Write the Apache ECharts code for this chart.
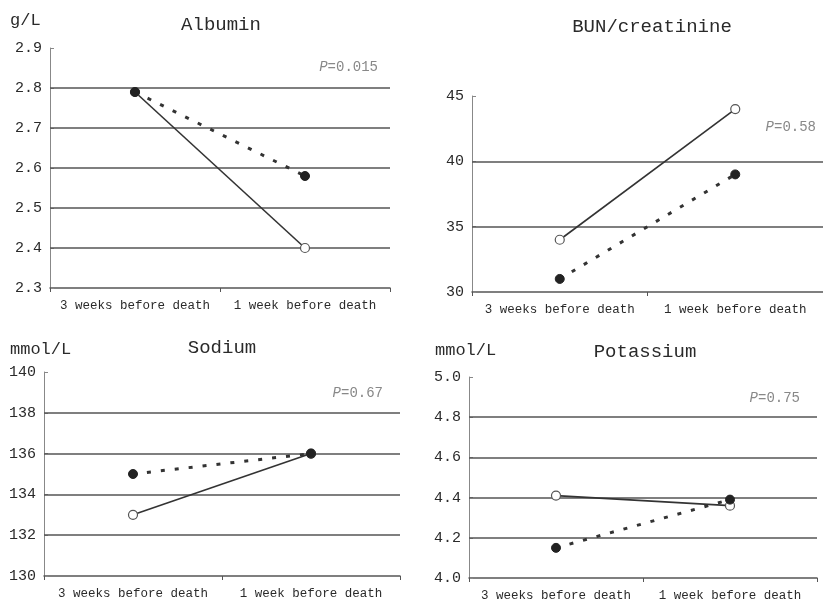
<!DOCTYPE html>
<html>
<head>
<meta charset="utf-8">
<script src="https://cdn.jsdelivr.net/npm/echarts@6/dist/echarts.min.js"></script>
<style>html,body{margin:0;padding:0;background:#fff;}#c{width:823px;height:602px;}</style>
</head>
<body>
<div id="c"></div>
<script>
const categories = ['3 weeks before death', '1 week before death'];

const albuminSolid = [2.79, 2.40];
const albuminDotted = [2.79, 2.58];
const albuminTicks = [2.3, 2.4, 2.5, 2.6, 2.7, 2.8, 2.9];

const bunSolid = [34, 44];
const bunDotted = [31, 39];
const bunTicks = [30, 35, 40, 45];

const sodiumSolid = [133, 136];
const sodiumDotted = [135, 136];
const sodiumTicks = [130, 132, 134, 136, 138, 140];

const potassiumSolid = [4.41, 4.36];
const potassiumDotted = [4.15, 4.39];
const potassiumTicks = [4.0, 4.2, 4.4, 4.6, 4.8, 5.0];

const panels = [
  { title: 'Albumin', unit: 'g/L', p: '0.015', solid: albuminSolid, dotted: albuminDotted, ticks: albuminTicks, dec: 1,
    grid: { left: 50, top: 48, width: 340, height: 240 },
    titlePos: [221, 25], unitPos: [10, 20], pPos: [378, 67] },
  { title: 'BUN/creatinine', unit: '', p: '0.58', solid: bunSolid, dotted: bunDotted, ticks: bunTicks, dec: 0,
    grid: { left: 472, top: 96, width: 358, height: 196 },
    titlePos: [652, 27], unitPos: [0, 0], pPos: [816, 127] },
  { title: 'Sodium', unit: 'mmol/L', p: '0.67', solid: sodiumSolid, dotted: sodiumDotted, ticks: sodiumTicks, dec: 0,
    grid: { left: 44, top: 372, width: 356, height: 204 },
    titlePos: [222, 348], unitPos: [10, 349], pPos: [383, 393] },
  { title: 'Potassium', unit: 'mmol/L', p: '0.75', solid: potassiumSolid, dotted: potassiumDotted, ticks: potassiumTicks, dec: 1,
    grid: { left: 469, top: 377, width: 348, height: 201 },
    titlePos: [645, 352], unitPos: [435, 350], pPos: [800, 398] }
];

const FONT = '"Liberation Mono", "DejaVu Sans Mono", monospace';
const TXT = '#2a2a2a';

const grids = [], xAxes = [], yAxes = [], series = [], graphics = [];

panels.forEach((pn, i) => {
  grids.push(Object.assign({ containLabel: false }, pn.grid));
  xAxes.push({
    type: 'category', gridIndex: i, data: categories, boundaryGap: true,
    axisLine: { lineStyle: { color: '#555', width: 1.5 } },
    axisTick: { show: true, length: 4, lineStyle: { color: '#555' } },
    axisLabel: { fontFamily: FONT, fontSize: 12.5, color: TXT, margin: 11, interval: 0 }
  });
  const step = pn.ticks[1] - pn.ticks[0];
  const mn = pn.ticks[0], mx = pn.ticks[pn.ticks.length - 1];
  yAxes.push({
    type: 'value', gridIndex: i, min: mn, max: mx, interval: step,
    axisLine: { show: true, lineStyle: { color: '#888', width: 1 } },
    axisTick: { show: true, inside: true, length: 4, lineStyle: { color: '#888' } },
    splitLine: { show: false },
    axisLabel: { fontFamily: FONT, fontSize: 15, color: TXT, margin: 8,
      formatter: v => Number(v).toFixed(pn.dec) }
  });
  const gridVals = pn.ticks.filter(t => t !== mn && t !== mx);
  series.push({
    type: 'line', xAxisIndex: i, yAxisIndex: i, data: pn.solid, z: 3,
    lineStyle: { color: '#333', width: 1.6, type: 'solid' },
    symbol: 'circle', symbolSize: 9,
    itemStyle: { color: '#fff', borderColor: '#555', borderWidth: 1.2 },
    markLine: {
      silent: true, symbol: 'none', label: { show: false }, z: 1,
      lineStyle: { color: '#555', width: 1.6, type: 'solid' },
      data: gridVals.map(v => ({ yAxis: v }))
    }
  });
  series.push({
    type: 'line', xAxisIndex: i, yAxisIndex: i, data: pn.dotted, z: 4,
    lineStyle: { color: '#333', width: 3, type: [4, 10] },
    symbol: 'circle', symbolSize: 9,
    itemStyle: { color: '#222', borderColor: '#222', borderWidth: 1 }
  });
  graphics.push({
    type: 'text', x: pn.titlePos[0], y: pn.titlePos[1],
    style: { text: pn.title, font: '19px ' + FONT, fill: TXT, align: 'center', verticalAlign: 'middle' }
  });
  if (pn.unit) {
    graphics.push({
      type: 'text', x: pn.unitPos[0], y: pn.unitPos[1],
      style: { text: pn.unit, font: '17px ' + FONT, fill: TXT, align: 'left', verticalAlign: 'middle' }
    });
  }
  graphics.push({
    type: 'text', x: pn.pPos[0], y: pn.pPos[1],
    style: { text: '{i|P}=' + pn.p, font: '14px ' + FONT, fill: '#888', align: 'right', verticalAlign: 'middle',
      rich: { i: { fontStyle: 'italic', fontFamily: FONT, fontSize: 14, fill: '#888', color: '#888' } } }
  });
});

const chart = echarts.init(document.getElementById('c'));
chart.setOption({
  backgroundColor: '#fff',
  animation: false,
  grid: grids, xAxis: xAxes, yAxis: yAxes, series: series, graphic: graphics
});
</script>
</body>
</html>
